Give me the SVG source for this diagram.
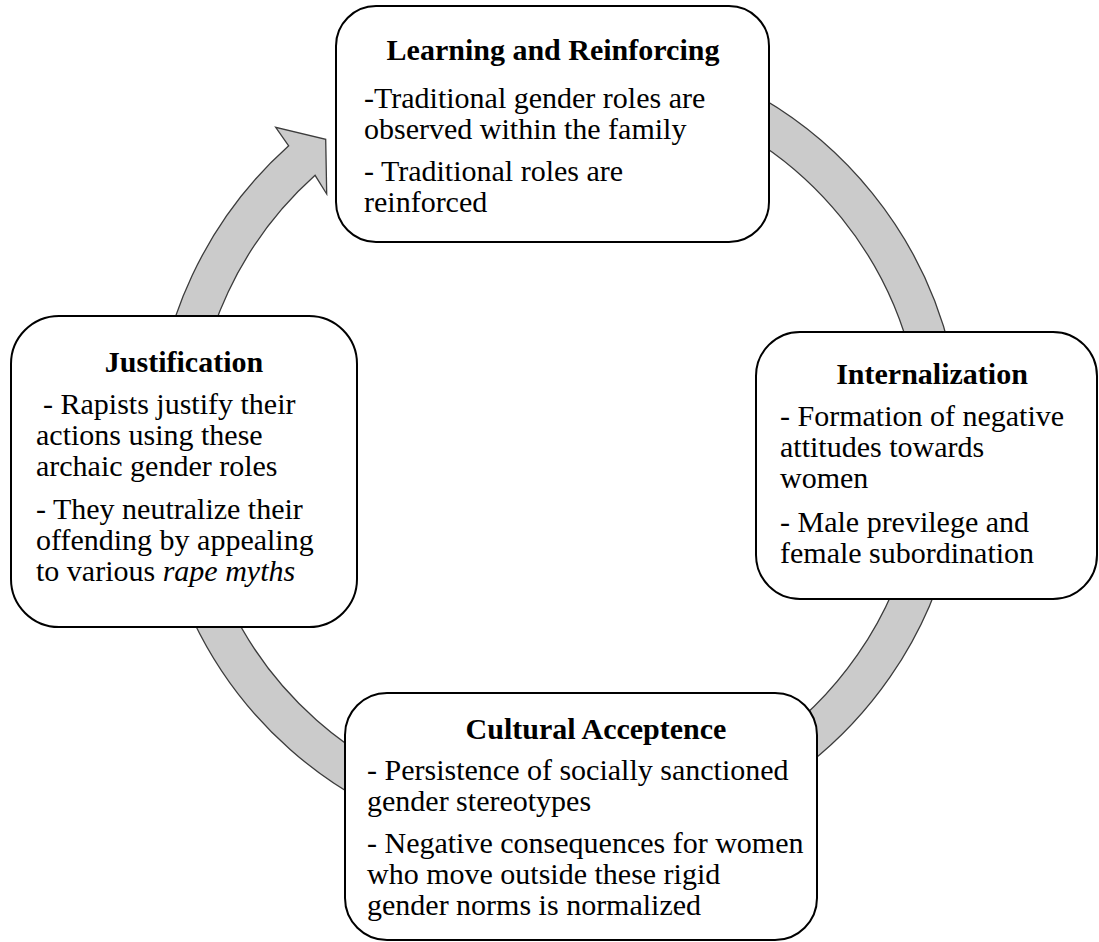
<svg xmlns="http://www.w3.org/2000/svg" width="1099" height="942" viewBox="0 0 1099 942">
  <style>
    .box { fill: #ffffff; stroke: #000000; stroke-width: 2; }
    .ring { fill: #cbcbcb; stroke: #3c3c3c; stroke-width: 1.3; stroke-linejoin: miter; }
    text { font-family: "Liberation Serif", "Times New Roman", serif; font-size: 30px; fill: #000000; }
    .title { font-weight: bold; text-anchor: middle; }
    .it { font-style: italic; }
  </style>
  <rect width="1099" height="942" fill="#ffffff"/>
  <g id="connectors">
    <path class="ring" d="M 747.7 90.3 A 404 404 0 1 1 288.7 145.8 L 275.7 127.3 L 325.7 139.3 L 326.7 194 L 315.1 175.3 A 364.5 364.5 0 1 0 729.1 125.2 Z"/>
  </g>
  <g id="node-learning">
    <rect class="box" x="336" y="6" width="433" height="236" rx="40" ry="40"/>
    <text class="title" x="553" y="60">Learning and Reinforcing</text>
    <text x="364" y="108">-Traditional gender roles are</text>
    <text x="364" y="139">observed within the family</text>
    <text x="364" y="181">- Traditional roles are</text>
    <text x="364" y="212">reinforced</text>
  </g>
  <g id="node-internalization">
    <rect class="box" x="756" y="332" width="341" height="267" rx="44" ry="44"/>
    <text class="title" x="932" y="384">Internalization</text>
    <text x="780" y="426">- Formation of negative</text>
    <text x="780" y="457">attitudes towards</text>
    <text x="780" y="488">women</text>
    <text x="780" y="532">- Male previlege and</text>
    <text x="780" y="563">female subordination</text>
  </g>
  <g id="node-cultural">
    <rect class="box" x="345" y="693" width="472" height="247" rx="42" ry="42"/>
    <text class="title" x="596" y="739">Cultural Acceptence</text>
    <text x="367" y="780">- Persistence of socially sanctioned</text>
    <text x="367" y="811">gender stereotypes</text>
    <text x="367" y="853">- Negative consequences for women</text>
    <text x="367" y="884">who move outside these rigid</text>
    <text x="367" y="915">gender norms is normalized</text>
  </g>
  <g id="node-justification">
    <rect class="box" x="11" y="316" width="346" height="311" rx="48" ry="48"/>
    <text class="title" x="184" y="372">Justification</text>
    <text x="43" y="414">- Rapists justify their</text>
    <text x="36" y="445">actions using these</text>
    <text x="36" y="476">archaic gender roles</text>
    <text x="36" y="519">- They neutralize their</text>
    <text x="36" y="550">offending by appealing</text>
    <text x="36" y="581">to various <tspan class="it">rape myths</tspan></text>
  </g>
</svg>
